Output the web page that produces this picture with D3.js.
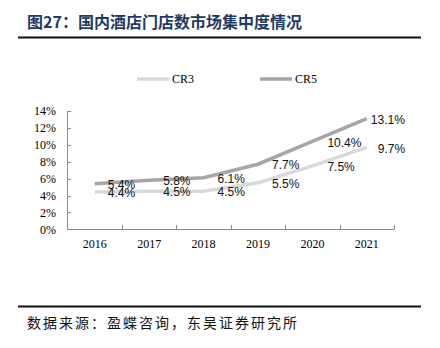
<!DOCTYPE html>
<meta charset="utf-8">
<style>
body { margin: 0; background: #fff; }
.title { font-family: "Noto Sans CJK SC", sans-serif; font-weight: bold; font-size: 16px; fill: #1f3a64; }
.source { font-family: "Noto Sans CJK SC", sans-serif; font-size: 14px; fill: #111; letter-spacing: 2px; }
.axis text, .legend text { font-family: "Liberation Serif", "Times New Roman", serif; font-size: 12px; fill: #000; }
.lbl { font-family: "Liberation Sans", Arial, sans-serif; font-size: 12px; fill: #111; }
</style>
<body>
<svg width="440" height="348"></svg>
<script src="https://cdn.jsdelivr.net/npm/d3@7"></script>
<script>
// 国内酒店门店数 CR3 / CR5
var years = ["2016", "2017", "2018", "2019", "2020", "2021"];
var cr3 = [4.4, 4.5, 4.5, 5.5, 7.5, 9.7];
var cr5 = [5.4, 5.8, 6.1, 7.7, 10.4, 13.1];
var yTicks = [0, 2, 4, 6, 8, 10, 12, 14];
// label offsets to the right of each point
var cr3LabelDx = [13, 14, 14, 14, 15, 11];
var cr5LabelDx = [13, 14, 14, 14, 15, 4];

var svg = d3.select("svg");

svg.append("text").attr("class", "title")
    .attr("x", 27).attr("y", 28)
    .text("图27：国内酒店门店数市场集中度情况");

svg.append("line").attr("x1", 18).attr("x2", 421).attr("y1", 37.5).attr("y2", 37.5)
    .attr("stroke", "#111").attr("stroke-width", 2);
svg.append("line").attr("x1", 18).attr("x2", 421).attr("y1", 306.5).attr("y2", 306.5)
    .attr("stroke", "#111").attr("stroke-width", 2);

svg.append("text").attr("class", "source")
    .attr("x", 27).attr("y", 328)
    .text("数据来源：盈蝶咨询，东吴证券研究所");

var x = d3.scaleBand().domain(years).range([67.5, 394]);
var y = d3.scaleLinear().domain([0, 14]).range([229.3, 111]);
var cx = function(d, i) { return x(years[i]) + x.bandwidth() / 2; };

var g = svg.append("g").attr("class", "axis");

// y axis
g.append("line").attr("x1", 67.5).attr("x2", 67.5).attr("y1", y(14)).attr("y2", y(0))
    .attr("stroke", "#8c8c8c");
g.selectAll(".yt").data(yTicks).enter().append("line")
    .attr("x1", 67.5).attr("x2", 71).attr("y1", d => Math.round(y(d)) + 0.5).attr("y2", d => Math.round(y(d)) + 0.5)
    .attr("stroke", "#8c8c8c");
g.selectAll(".yl").data(yTicks).enter().append("text")
    .attr("x", 56).attr("y", d => y(d)).attr("dy", "0.35em")
    .attr("text-anchor", "end")
    .text(d => d + "%");

// x axis
g.append("line").attr("x1", 67.5).attr("x2", 394).attr("y1", 229.5).attr("y2", 229.5)
    .attr("stroke", "#8c8c8c");
g.selectAll(".xt").data(years.slice(1).concat(["end"])).enter().append("line")
    .attr("x1", (d, i) => Math.round(x(years[0]) + x.bandwidth() * (i + 1)) + 0.5)
    .attr("x2", (d, i) => Math.round(x(years[0]) + x.bandwidth() * (i + 1)) + 0.5)
    .attr("y1", 229.5).attr("y2", 225)
    .attr("stroke", "#8c8c8c");
g.selectAll(".xl").data(years).enter().append("text")
    .attr("x", (d, i) => cx(d, i)).attr("y", 248)
    .attr("text-anchor", "middle")
    .text(d => d);

// lines
var line = d3.line().x(cx).y(d => y(d));

svg.append("path").datum(cr3).attr("d", line)
    .attr("fill", "none").attr("stroke", "#d9d9d9").attr("stroke-width", 3.5);
svg.append("path").datum(cr5).attr("d", line)
    .attr("fill", "none").attr("stroke", "#a6a6a6").attr("stroke-width", 3.5);

// value labels
function labels(data, dx) {
  svg.append("g").selectAll("text").data(data).enter().append("text")
      .attr("class", "lbl")
      .attr("x", (d, i) => cx(d, i) + dx[i])
      .attr("y", d => y(d) + 1)
      .attr("dy", "0.35em")
      .text(d => d.toFixed(1) + "%");
}
labels(cr3, cr3LabelDx);
labels(cr5, cr5LabelDx);

// legend
var legend = svg.append("g").attr("class", "legend");
var items = [
  {name: "CR3", color: "#d9d9d9", x: 137},
  {name: "CR5", color: "#a6a6a6", x: 260}
];
items.forEach(function(it) {
  legend.append("line").attr("x1", it.x).attr("x2", it.x + 32).attr("y1", 79).attr("y2", 79)
      .attr("stroke", it.color).attr("stroke-width", 3.5);
  legend.append("text").attr("x", it.x + 35).attr("y", 83).text(it.name);
});
</script>
</body>
